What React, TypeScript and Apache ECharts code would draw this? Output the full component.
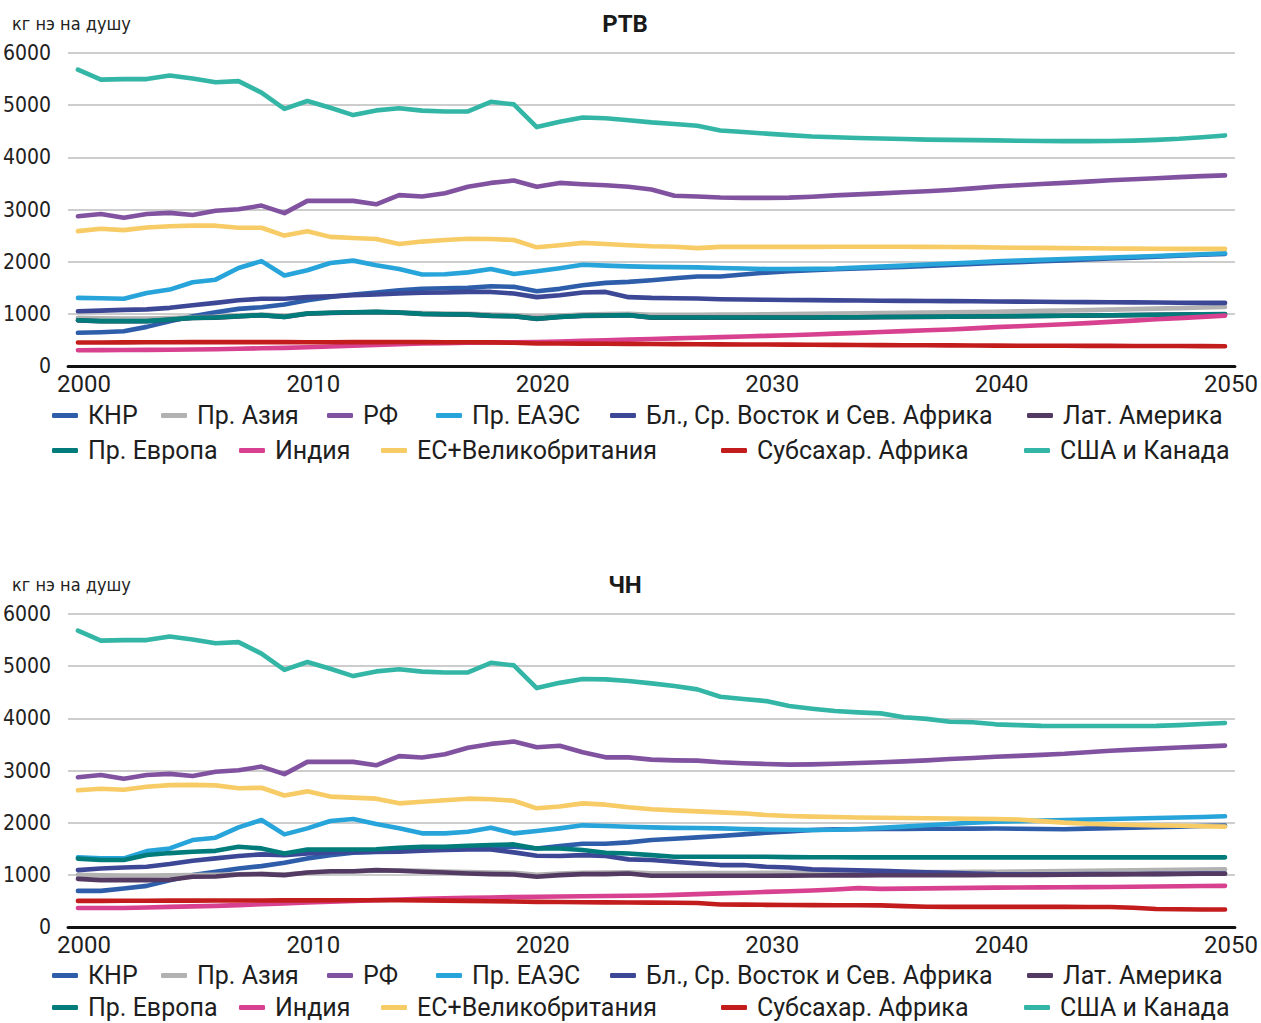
import React, { useEffect, useRef } from "react";
import * as echarts from "echarts";

const START_YEAR = 2000;
const END_YEAR = 2050;
const X_TICKS = [2000, 2010, 2020, 2030, 2040, 2050];
const Y_TICKS_MAX = 6000;

const SERIES_NAMES = [
  "КНР",
  "Пр. Азия",
  "РФ",
  "Пр. ЕАЭС",
  "Бл., Ср. Восток и Сев. Африка",
  "Лат. Америка",
  "Пр. Европа",
  "Индия",
  "ЕС+Великобритания",
  "Субсахар. Африка",
  "США и Канада",
];

const COLORS = [
  "#2E5EAA",
  "#B2B2B2",
  "#8152A0",
  "#27A4DA",
  "#3C4896",
  "#533A63",
  "#027B7B",
  "#D8418F",
  "#F7CB65",
  "#C31C1D",
  "#33B6A6",
];

// ---------- Panel 1: РТВ ----------
const KHP_RTV = [636, 648, 667, 750, 858, 954, 1030, 1095, 1127, 1178, 1260, 1325, 1370, 1410, 1450, 1480, 1490, 1497, 1528, 1517, 1433, 1479, 1548, 1594, 1613, 1644, 1682, 1715, 1715, 1753, 1790, 1815, 1836, 1855, 1870, 1885, 1900, 1918, 1936, 1955, 1975, 1992, 2008, 2025, 2042, 2060, 2078, 2096, 2114, 2132, 2150];
const ASIA_RTV = [925, 915, 910, 910, 920, 935, 945, 965, 985, 960, 1010, 1020, 1030, 1035, 1030, 1015, 1005, 1000, 985, 975, 945, 965, 985, 995, 1000, 980, 980, 982, 985, 988, 990, 995, 1000, 1005, 1010, 1015, 1020, 1025, 1030, 1035, 1040, 1048, 1056, 1064, 1072, 1080, 1090, 1100, 1110, 1120, 1130];
const RF_RTV = [2870, 2915, 2840, 2915, 2935, 2895, 2975, 3005, 3075, 2930, 3165, 3165, 3165, 3100, 3275, 3250, 3310, 3435, 3510, 3555, 3435, 3510, 3485, 3465, 3435, 3385, 3265, 3250, 3230, 3222, 3222, 3228, 3245, 3270, 3290, 3310, 3330, 3350, 3375, 3405, 3440, 3465, 3490, 3510, 3535, 3560, 3580, 3600, 3620, 3640, 3655];
const EAES_RTV = [1305, 1300, 1290, 1400, 1465, 1605, 1655, 1880, 2010, 1735, 1835, 1975, 2020, 1930, 1860, 1755, 1760, 1795, 1860, 1765, 1815, 1875, 1940, 1925, 1910, 1900, 1895, 1890, 1880, 1868, 1860, 1860, 1862, 1870, 1888, 1905, 1925, 1945, 1965, 1985, 2005, 2020, 2035, 2050, 2065, 2080, 2095, 2110, 2125, 2142, 2160];
const BL_RTV = [1050, 1062, 1075, 1085, 1115, 1165, 1210, 1260, 1290, 1290, 1320, 1335, 1355, 1370, 1390, 1405, 1410, 1420, 1420, 1390, 1320, 1355, 1408, 1420, 1320, 1305, 1300, 1293, 1281, 1275, 1270, 1265, 1262, 1258, 1255, 1252, 1249, 1246, 1243, 1240, 1237, 1234, 1231, 1228, 1225, 1222, 1219, 1216, 1213, 1211, 1210];
const LATAM_RTV = [875, 858, 858, 858, 888, 920, 928, 952, 972, 940, 1002, 1016, 1027, 1035, 1022, 998, 990, 985, 960, 953, 903, 940, 960, 965, 972, 928, 927, 927, 927, 927, 928, 928, 928, 930, 933, 936, 939, 942, 945, 948, 951, 954, 958, 962, 966, 970, 975, 980, 985, 990, 993];
const EUROPE_RTV = [878, 860, 860, 860, 890, 922, 930, 955, 975, 942, 1005, 1020, 1030, 1038, 1025, 1000, 993, 987, 962, 955, 905, 942, 962, 967, 975, 930, 929, 929, 929, 929, 930, 930, 930, 932, 935, 938, 941, 944, 947, 950, 953, 956, 960, 964, 968, 972, 977, 982, 987, 992, 995];
const INDIA_RTV = [303, 305, 307, 309, 312, 316, 322, 330, 340, 348, 360, 375, 390, 405, 420, 430, 438, 445, 452, 455, 458, 470, 482, 494, 506, 518, 530, 542, 554, 566, 578, 590, 605, 620, 635, 652, 668, 684, 700, 722, 745, 762, 780, 800, 822, 845, 870, 895, 918, 942, 965];
const EU_RTV = [2585, 2630, 2605, 2655, 2680, 2690, 2690, 2650, 2650, 2500, 2585, 2475, 2455, 2435, 2340, 2385, 2415, 2440, 2435, 2415, 2275, 2315, 2360, 2340, 2315, 2295, 2285, 2260, 2283, 2283, 2283, 2283, 2283, 2285, 2285, 2285, 2285, 2283, 2280, 2278, 2272, 2268, 2264, 2260, 2256, 2252, 2250, 2248, 2246, 2245, 2245];
const SSA_RTV = [450, 450, 452, 454, 456, 457, 458, 458, 458, 457, 456, 456, 457, 458, 459, 458, 456, 455, 452, 445, 432, 430, 428, 426, 424, 421, 419, 417, 415, 413, 411, 409, 407, 405, 403, 401, 399, 397, 395, 393, 391, 389, 388, 387, 386, 385, 384, 383, 382, 381, 380];
const USA_RTV = [5680, 5490, 5500, 5500, 5570, 5510, 5440, 5460, 5240, 4930, 5080, 4950, 4810, 4900, 4940, 4895, 4880, 4880, 5065, 5015, 4580, 4680, 4765, 4750, 4710, 4670, 4640, 4605, 4515, 4485, 4455, 4425, 4400, 4385, 4370, 4360, 4350, 4340, 4335, 4330, 4325, 4318, 4312, 4310, 4310, 4312, 4320, 4335, 4355, 4385, 4420];

// ---------- Panel 2: ЧН ----------
const KHP_CHN = [692, 692, 738, 788, 898, 994, 1058, 1122, 1167, 1231, 1315, 1378, 1423, 1442, 1494, 1520, 1530, 1538, 1545, 1540, 1506, 1550, 1596, 1596, 1622, 1667, 1692, 1718, 1744, 1776, 1808, 1833, 1859, 1872, 1875, 1878, 1880, 1882, 1884, 1886, 1888, 1884, 1880, 1875, 1885, 1895, 1905, 1915, 1925, 1935, 1945];
const ASIA_CHN = [1000, 990, 985, 985, 990, 995, 1000, 1010, 1020, 1005, 1040, 1055, 1065, 1080, 1085, 1075, 1065, 1055, 1045, 1040, 1000, 1025, 1040, 1045, 1050, 1030, 1030, 1032, 1034, 1036, 1038, 1040, 1042, 1044, 1046, 1048, 1050, 1052, 1055, 1058, 1060, 1064, 1068, 1072, 1076, 1080, 1085, 1090, 1095, 1100, 1105];
const RF_CHN = [2870, 2915, 2840, 2915, 2935, 2895, 2975, 3005, 3075, 2930, 3165, 3165, 3165, 3100, 3275, 3250, 3310, 3435, 3510, 3555, 3445, 3475, 3350, 3252, 3252, 3208, 3195, 3190, 3157, 3138, 3125, 3112, 3118, 3130, 3145, 3157, 3175, 3195, 3220, 3240, 3265, 3280, 3300, 3320, 3350, 3380, 3400, 3420, 3440, 3458, 3476];
const EAES_CHN = [1335, 1315, 1315, 1455, 1506, 1667, 1712, 1910, 2051, 1776, 1891, 2032, 2071, 1974, 1891, 1795, 1795, 1827, 1904, 1795, 1840, 1891, 1949, 1936, 1923, 1910, 1900, 1897, 1891, 1880, 1870, 1865, 1860, 1865, 1880, 1900, 1925, 1950, 1975, 2000, 2019, 2030, 2040, 2050, 2060, 2071, 2080, 2090, 2100, 2110, 2122];
const BL_CHN = [1090, 1122, 1142, 1155, 1206, 1270, 1315, 1360, 1392, 1378, 1411, 1430, 1435, 1440, 1442, 1462, 1475, 1487, 1487, 1430, 1366, 1360, 1378, 1360, 1296, 1283, 1250, 1219, 1187, 1187, 1154, 1141, 1104, 1095, 1085, 1075, 1062, 1050, 1040, 1025, 1013, 1012, 1012, 1012, 1013, 1015, 1017, 1019, 1021, 1023, 1026];
const LATAM_CHN = [923, 898, 898, 898, 905, 962, 968, 1007, 1013, 994, 1045, 1070, 1070, 1090, 1077, 1058, 1045, 1026, 1013, 1007, 962, 994, 1013, 1013, 1026, 981, 981, 981, 981, 981, 983, 985, 987, 989, 990, 991, 992, 993, 994, 995, 996, 998, 1000, 1002, 1005, 1008, 1011, 1014, 1017, 1020, 1022];
const EUROPE_CHN = [1310, 1283, 1283, 1380, 1417, 1442, 1460, 1538, 1507, 1410, 1487, 1487, 1487, 1490, 1519, 1538, 1538, 1558, 1571, 1583, 1506, 1506, 1475, 1423, 1410, 1378, 1346, 1346, 1346, 1346, 1346, 1340, 1338, 1336, 1335, 1335, 1335, 1335, 1335, 1335, 1335, 1335, 1335, 1335, 1335, 1335, 1335, 1335, 1335, 1335, 1335];
const INDIA_CHN = [365, 365, 365, 375, 385, 395, 405, 420, 435, 450, 470, 485, 500, 515, 527, 540, 550, 558, 565, 575, 580, 585, 590, 595, 600, 605, 615, 630, 645, 658, 673, 685, 700, 720, 745, 730, 735, 740, 745, 750, 755, 758, 760, 762, 765, 768, 772, 776, 780, 785, 789];
const EU_CHN = [2620, 2650, 2630, 2690, 2720, 2725, 2715, 2660, 2670, 2520, 2600, 2500, 2480, 2460, 2370, 2400, 2430, 2460, 2450, 2420, 2275, 2310, 2370, 2345, 2294, 2256, 2236, 2217, 2198, 2179, 2147, 2128, 2115, 2108, 2100, 2095, 2090, 2085, 2080, 2075, 2070, 2060, 2030, 2000, 1980, 1965, 1955, 1948, 1940, 1932, 1925];
const SSA_CHN = [500, 500, 502, 504, 505, 506, 507, 508, 509, 510, 511, 512, 513, 513, 513, 510, 505, 500, 495, 490, 481, 478, 475, 472, 470, 467, 464, 461, 430, 428, 425, 422, 420, 418, 417, 415, 400, 388, 386, 386, 386, 386, 385, 385, 384, 383, 370, 345, 340, 336, 335];
const USA_CHN = [5680, 5490, 5500, 5500, 5570, 5510, 5440, 5460, 5240, 4930, 5080, 4950, 4810, 4900, 4940, 4895, 4880, 4880, 5065, 5015, 4580, 4680, 4755, 4747, 4715, 4670, 4620, 4555, 4415, 4370, 4330, 4236, 4185, 4140, 4115, 4095, 4020, 3990, 3935, 3925, 3885, 3870, 3855, 3853, 3853, 3853, 3853, 3855, 3870, 3890, 3910];

const PANEL_RTV = [KHP_RTV, ASIA_RTV, RF_RTV, EAES_RTV, BL_RTV, LATAM_RTV, EUROPE_RTV, INDIA_RTV, EU_RTV, SSA_RTV, USA_RTV];
const PANEL_CHN = [KHP_CHN, ASIA_CHN, RF_CHN, EAES_CHN, BL_CHN, LATAM_CHN, EUROPE_CHN, INDIA_CHN, EU_CHN, SSA_CHN, USA_CHN];

const PANEL_TITLES = ["РТВ", "ЧН"];
const UNIT = "кг нэ на душу";

// layout (pixels)
const GRID_TOPS = [53, 614];
const GRID_HEIGHT = 313;
const LEGEND_ROWS = [
  [415, 450],
  [975, 1007],
];
// [row, left x of icon] for each legend item, in SERIES_NAMES order
const LEGEND_POS: [number, number][] = [
  [0, 52],
  [0, 161],
  [0, 327],
  [0, 436],
  [0, 610],
  [0, 1027],
  [1, 52],
  [1, 239],
  [1, 381],
  [1, 721],
  [1, 1024],
];

const NARROW = "'Liberation Sans Narrow', 'DejaVu Sans Condensed', Roboto, sans-serif";
const REG = "Roboto, 'Noto Sans', 'DejaVu Sans', sans-serif";

export default function App() {
  const ref = useRef<HTMLDivElement>(null);

  useEffect(() => {
    if (!ref.current) return;
    const chart = echarts.init(ref.current, undefined, { renderer: "svg" });

    const years: number[] = [];
    for (let y = START_YEAR; y <= END_YEAR; y++) years.push(y);

    const panels = [PANEL_RTV, PANEL_CHN];

    const grids = GRID_TOPS.map((t) => ({
      left: 67,
      right: 22,
      top: t,
      height: GRID_HEIGHT,
      containLabel: false,
    }));

    const xAxes = GRID_TOPS.map((_, i) => ({
      type: "value",
      gridIndex: i,
      min: 1999.57,
      max: 2050.43,
      axisLine: { show: true, onZero: false, lineStyle: { color: "#111", width: 3 } },
      axisTick: { show: false },
      splitLine: { show: false },
      axisLabel: {
        customValues: X_TICKS,
        formatter: (v: number) => String(v),
        fontFamily: REG,
        fontSize: 24,
        color: "#1e1e1e",
        margin: 6,
        padding: [0, 0, 0, 12],
      },
    }));

    const yAxes = GRID_TOPS.map((_, i) => ({
      type: "value",
      gridIndex: i,
      min: 0,
      max: Y_TICKS_MAX,
      interval: 1000,
      axisLine: { show: false },
      axisTick: { show: false },
      splitLine: { show: true, lineStyle: { color: "#BDBDBD", width: 1.5 } },
      axisLabel: {
        formatter: (v: number) => String(v),
        fontFamily: NARROW,
        fontSize: 21,
        color: "#222",
        margin: 17,
      },
    }));

    const series: any[] = [];
    panels.forEach((panel, p) => {
      panel.forEach((arr, k) => {
        series.push({
          type: "line",
          name: SERIES_NAMES[k],
          xAxisIndex: p,
          yAxisIndex: p,
          data: years.map((y, i) => [y, arr[i]]),
          symbol: "none",
          showSymbol: false,
          smooth: false,
          color: COLORS[k],
          lineStyle: { color: COLORS[k], width: 4.6, cap: "round", join: "round" },
          z: 2 + k * 0.01,
        });
      });
    });

    const legends: any[] = [];
    LEGEND_ROWS.forEach((rows) => {
      SERIES_NAMES.forEach((name, k) => {
        const [row, left] = LEGEND_POS[k];
        legends.push({
          left,
          top: rows[row] - 12,
          data: [name],
          icon: "roundRect",
          itemWidth: 26,
          itemHeight: 5,
          padding: 0,
          selectedMode: false,
          textStyle: {
            fontFamily: REG,
            fontSize: 25,
            color: "#1e1e1e",
            padding: [0, 0, 0, 5],
          },
        });
      });
    });

    const graphics: any[] = [];
    GRID_TOPS.forEach((t, i) => {
      graphics.push({
        type: "text",
        x: 12,
        y: t - 30,
        style: {
          text: UNIT,
          fontFamily: NARROW,
          fontSize: 18,
          fill: "#222",
          verticalAlign: "middle",
        },
      });
      graphics.push({
        type: "text",
        x: 625,
        y: t - 29,
        style: {
          text: PANEL_TITLES[i],
          fontFamily: REG,
          fontSize: 24,
          fontWeight: "bold",
          fill: "#1a1a1a",
          align: "center",
          verticalAlign: "middle",
        },
      });
    });

    chart.setOption({
      animation: false,
      backgroundColor: "#ffffff",
      grid: grids,
      xAxis: xAxes,
      yAxis: yAxes,
      legend: legends,
      graphic: graphics,
      series,
    });

    return () => chart.dispose();
  }, []);

  return (
    <div
      ref={ref}
      style={{ position: "absolute", left: 0, top: 0, width: 1261, height: 1023 }}
    />
  );
}
